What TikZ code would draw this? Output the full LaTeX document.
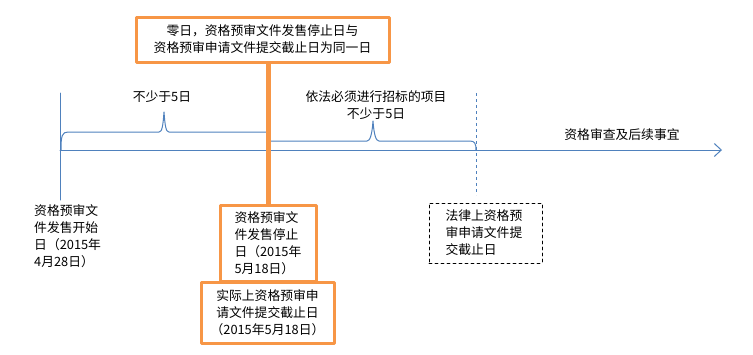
\documentclass[tikz,border=0pt]{standalone}
\usepackage{fontspec}
\setmainfont{Noto Sans CJK SC}
\usetikzlibrary{arrows.meta}
\definecolor{lineblue}{HTML}{4F81BD}
\definecolor{boxorange}{HTML}{F79646}
\tikzset{
  obox/.style={draw=boxorange, line width=3pt, fill=white, inner sep=0pt},
  dbox/.style={draw=black, dashed, line width=0.6pt, inner sep=0pt},
  txt/.style={inner sep=0pt, font=\fontsize{12.8}{17}\selectfont},
}
\begin{document}
\begin{tikzpicture}[x=1pt, y=-1pt, line join=round, line cap=round, >={Straight Barb[length=7pt,width=13pt]}]
	\useasboundingbox (0,0) rectangle (753,354);
	\coordinate (t0) at (60,150);
	\coordinate (t1) at (722,150);
	% timeline
	\draw[lineblue, line width=1pt, ->] (t0) -- (t1);
	\draw[lineblue, line width=1pt] (60,93) -- (60,200);
	\draw[lineblue, line width=0.8pt, dashed, line cap=butt] (476,93) -- (476,195);
	% braces
	\draw[lineblue, line width=1pt] (61,150) .. controls (61,136) and (62,132) .. (68,132) -- (159,132)
		.. controls (162,132) and (163,126) .. (164,112) .. controls (165,126) and (166,132) .. (169,132) -- (267,132);
	\draw[lineblue, line width=1pt] (269,141) -- (367,141)
		.. controls (370,141) and (372,135) .. (373,121) .. controls (374,135) and (376,141) .. (379,141) -- (470,141)
		.. controls (475,141) and (476,144) .. (476,150);
	\node[txt] (lbl1) at (162,97) {不少于5日};
	\node[txt, align=center] (lbl2) at (376,105) {依法必须进行招标的项目\\不少于5日};
	\node[txt] (lbl3) at (622,135) {资格审查及后续事宜};
	% boxes
	\node[txt, anchor=north west, align=left] (start) at (34,204) {资格预审文\\件发售开始\\日（2015年\\4月28日）};
	\node[obox, minimum width=96pt, minimum height=76pt] (stop) at (268,243) {};
	\node[txt, align=left, text width=67pt] at (stop) {资格预审文\\件发售停止\\日（2015年\\5月18日）};
	\node[obox, minimum width=253pt, minimum height=45pt] (zero) at (262.5,39.5) {};
	\node[txt, align=center] at (zero) {零日，资格预审文件发售停止日与\\资格预审申请文件提交截止日为同一日};
	\draw[boxorange, line width=5pt, line cap=butt] (stop.north) -- (stop.north |- zero.south);
	\node[obox, minimum width=133pt, minimum height=61pt] (actual) at (267.5,312.5) {};
	\node[txt, align=center] at (actual) {实际上资格预审申\\请文件提交截止日\\（2015年5月18日）};
	\node[dbox, minimum width=113pt, minimum height=60pt] (legalbox) at (485.5,233) {};
	\node[txt, align=left, text width=80pt] at (legalbox) {法律上资格预\\审申请文件提\\交截止日};
\end{tikzpicture}
\end{document}
